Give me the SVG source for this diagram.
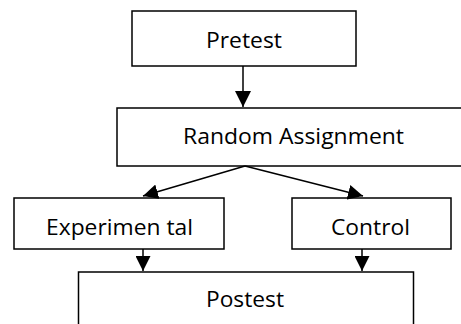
<svg xmlns="http://www.w3.org/2000/svg" width="461" height="324" viewBox="0 0 461 324">
<defs>
<style>
.box{fill:#fff;stroke:#000;stroke-width:1.5}
.lbl{font-family:"Open Sans","Liberation Sans",Arial,sans-serif;font-size:22px;fill:#000;text-anchor:middle}
.ln{stroke:#000;stroke-width:1.5;fill:none}
</style>
<marker id="ahL" viewBox="0 0 10 10" refX="10" refY="5" markerWidth="16" markerHeight="16" markerUnits="userSpaceOnUse" orient="auto">
<path d="M0,0 L10,5 L0,10 Z" fill="#000"/>
</marker>
<marker id="ahM" viewBox="0 0 10 10" refX="10" refY="5" markerWidth="15" markerHeight="15" markerUnits="userSpaceOnUse" orient="auto">
<path d="M0,0 L10,5 L0,10 Z" fill="#000"/>
</marker>
</defs>
<rect width="461" height="324" fill="#fff"/>
<g id="pretest">
<rect class="box" x="132" y="11" width="224" height="55"/>
<text class="lbl" x="244" y="48" textLength="76" lengthAdjust="spacingAndGlyphs">Pretest</text>
</g>
<g id="random">
<rect class="box" x="117" y="108" width="350" height="58"/>
<text class="lbl" x="293.5" y="144" textLength="221" lengthAdjust="spacingAndGlyphs">Random Assignment</text>
</g>
<g id="experimental">
<rect class="box" x="14" y="198" width="210" height="51"/>
<text class="lbl" x="119.5" y="235" textLength="147" lengthAdjust="spacingAndGlyphs">Experimen tal</text>
</g>
<g id="control">
<rect class="box" x="292" y="198" width="159" height="51"/>
<text class="lbl" x="370.5" y="235" textLength="79" lengthAdjust="spacingAndGlyphs">Control</text>
</g>
<g id="postest">
<rect class="box" x="78.5" y="272" width="335" height="70"/>
<text class="lbl" x="245" y="307" textLength="78" lengthAdjust="spacingAndGlyphs">Postest</text>
</g>
<g id="connectors">
<line class="ln" x1="243" y1="66" x2="243" y2="107" marker-end="url(#ahL)"/>
<line class="ln" x1="245" y1="166" x2="143" y2="196" marker-end="url(#ahM)"/>
<line class="ln" x1="245" y1="166" x2="363" y2="196" marker-end="url(#ahM)"/>
<line class="ln" x1="143" y1="249" x2="143" y2="271" marker-end="url(#ahM)"/>
<line class="ln" x1="362" y1="249" x2="362" y2="271" marker-end="url(#ahM)"/>
</g>
</svg>
